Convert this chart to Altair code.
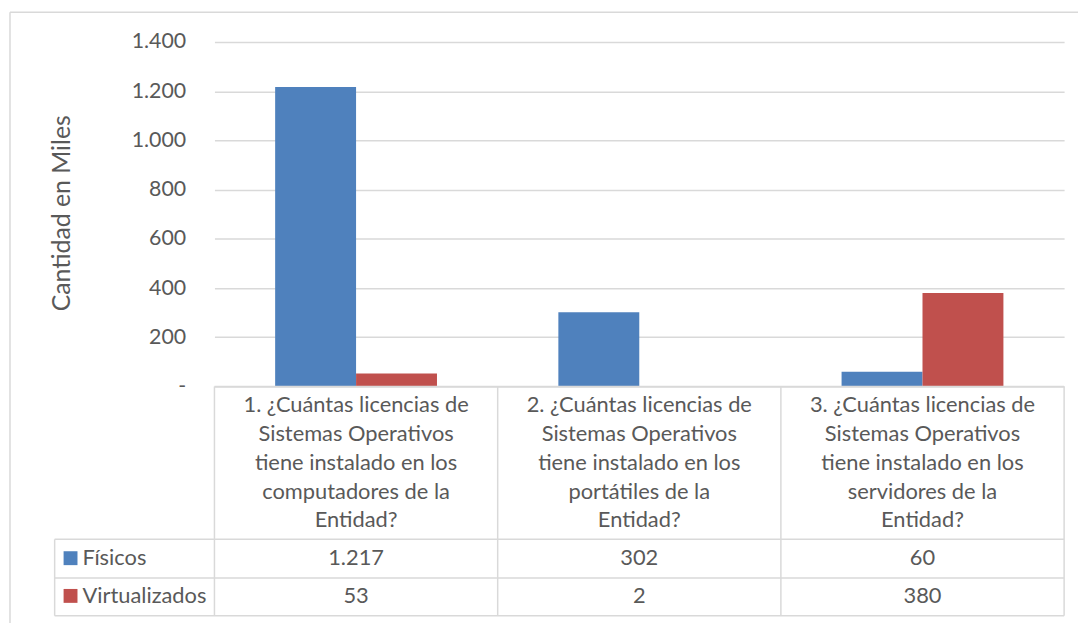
import altair as alt
import pandas as pd

categories = [
    "1. ¿Cuántas licencias de\nSistemas Operativos\ntiene instalado en los\ncomputadores de la\nEntidad?",
    "2. ¿Cuántas licencias de\nSistemas Operativos\ntiene instalado en los\nportátiles de la\nEntidad?",
    "3. ¿Cuántas licencias de\nSistemas Operativos\ntiene instalado en los\nservidores de la\nEntidad?",
]
series = ["Físicos", "Virtualizados"]
fisicos = [1217, 302, 60]
virtualizados = [53, 2, 380]
y_ticks = [0, 200, 400, 600, 800, 1000, 1200, 1400]
colors = ["#4f81bd", "#c0504d"]

FONT = "Lato"
TXT = "#595959"
LINE = "#d9d9d9"

rows = []
for s, vals in zip(series, [fisicos, virtualizados]):
    for c, v in zip(categories, vals):
        rows.append({"cat": c, "series": s, "value": v,
                     "label": f"{v:,}".replace(",", ".")})
df = pd.DataFrame(rows)
cat_df = pd.DataFrame({"cat": categories})
ser_df = pd.DataFrame({"series": series})
one = pd.DataFrame({"k": [0]})

W, H = 856, 578
PH = 347  # plot height

xscale = alt.Scale(domain=categories, paddingInner=0, paddingOuter=0)
cscale = alt.Scale(domain=series, range=colors)
rowscale = alt.Scale(type="point", domain=series, range=[520, 558], padding=0)

bars = alt.Chart(df).mark_bar().encode(
    x=alt.X("cat:N", scale=xscale, axis=None, sort=categories),
    xOffset=alt.XOffset("series:N", scale=alt.Scale(domain=series, paddingOuter=0.75, paddingInner=0)),
    y=alt.Y("value:Q", scale=alt.Scale(domain=[0, 1400], range=[PH, 0], nice=False),
            axis=alt.Axis(values=y_ticks, title="Cantidad en Miles",
                          labelExpr="datum.value == 0 ? '-' : replace(format(datum.value, ','), ',', '.')",
                          domain=False, ticks=False, grid=True, gridColor=LINE, gridWidth=1.5,
                          labelFont=FONT, labelFontSize=21.5, labelColor=TXT, labelPadding=29,
                          titleFont=FONT, titleFontSize=25, titleColor=TXT, titleFontWeight="normal",
                          titleX=-154, titleY=172, titleAngle=-90, titleAlign="center",
                          titleBaseline="middle")),
    color=alt.Color("series:N", scale=cscale, legend=None),
)

def rule(x, x2, y, y2):
    return alt.Chart(one).mark_rule(color=LINE, strokeWidth=1.5).encode(
        x=alt.value(x), x2=alt.value(x2), y=alt.value(y), y2=alt.value(y2))

# table frame
vlines = alt.Chart(cat_df).mark_rule(color=LINE, strokeWidth=1.5).encode(
    x=alt.X("cat:N", scale=xscale, axis=None, bandPosition=0),
    y=alt.value(PH), y2=alt.value(H))
lines = [
    rule(0, W, PH, PH),
    rule(-161, W, 501, 501),
    rule(-161, W, 540, 540),
    rule(-161, W, H, H),
    rule(W, W, PH, H),
    rule(-161, -161, 501, H),
    # outer chart border
    rule(-206, -206, -30, H + 10),
    rule(-206, W + 20, -30, -30),
]

headers = alt.Chart(cat_df).mark_text(
    font=FONT, fontSize=22, color=TXT, lineBreak="\n", lineHeight=29,
    baseline="middle", align="center").encode(
    x=alt.X("cat:N", scale=xscale, axis=None),
    y=alt.value(366), text="cat:N")

values = alt.Chart(df).mark_text(
    font=FONT, fontSize=22, color=TXT, baseline="middle", align="center").encode(
    x=alt.X("cat:N", scale=xscale, axis=None),
    y=alt.Y("series:N", scale=rowscale, axis=None),
    text="label:N")

squares = alt.Chart(ser_df).mark_square(size=196, opacity=1).encode(
    x=alt.value(-145),
    y=alt.Y("series:N", scale=rowscale, axis=None),
    color=alt.Color("series:N", scale=cscale, legend=None))

legend_labels = alt.Chart(ser_df).mark_text(
    font=FONT, fontSize=22, color=TXT, baseline="middle", align="left").encode(
    x=alt.value(-133),
    y=alt.Y("series:N", scale=rowscale, axis=None),
    text="series:N")

chart = alt.layer(bars, vlines, *lines, headers, values, squares, legend_labels).resolve_scale(
    y="independent"
).properties(
    width=W, height=H,
    autosize=alt.AutoSizeParams(type="none"),
    padding={"left": 208, "top": 32, "right": 14, "bottom": 5},
).configure_view(stroke=None)

chart.save("out.html", embed_options={"renderer": "svg", "actions": False})
